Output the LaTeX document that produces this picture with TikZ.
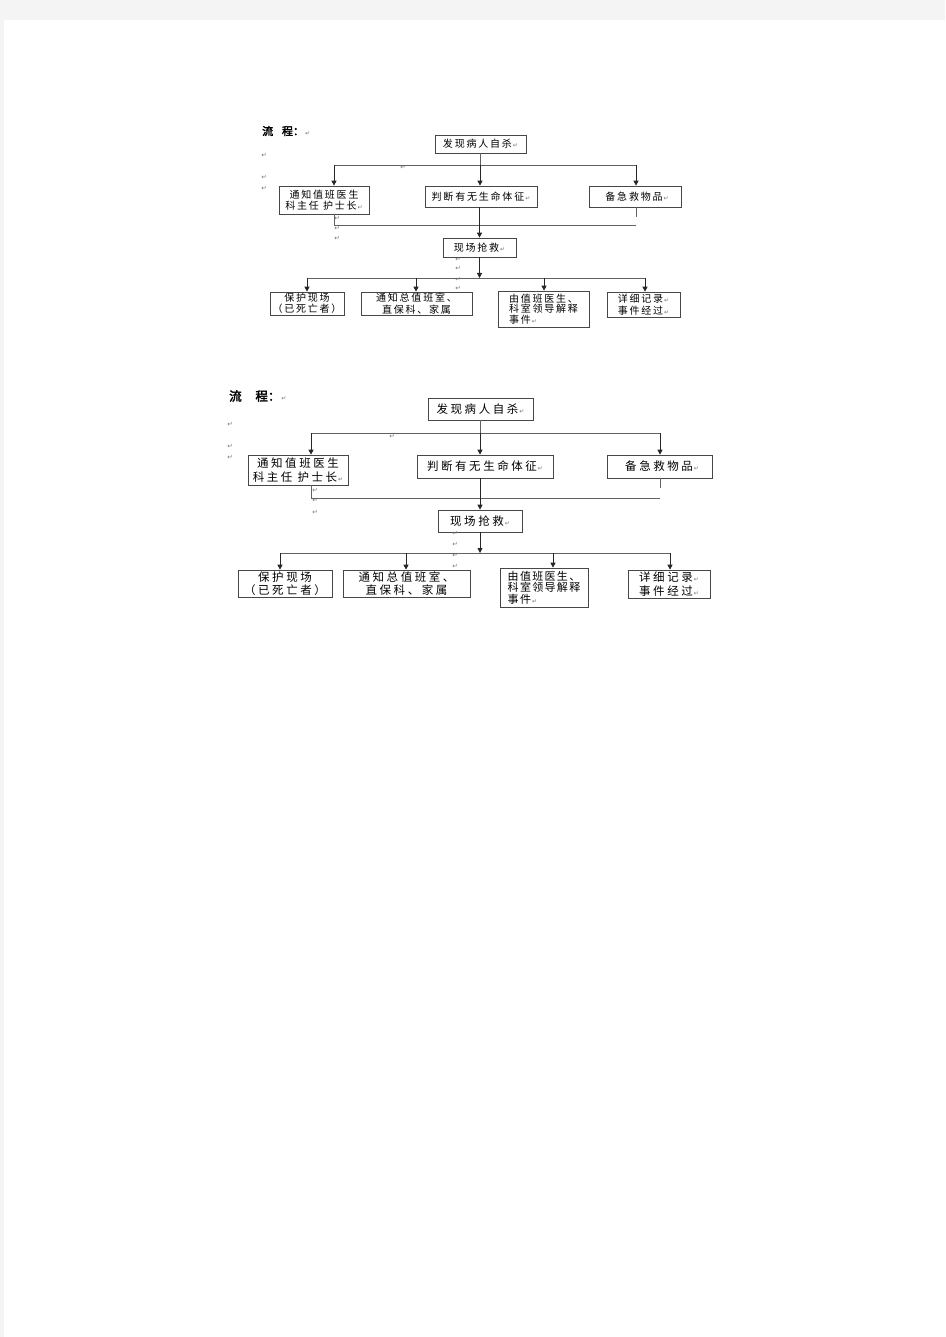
\documentclass[tikz,border=0pt]{standalone}
\usepackage{fontspec}
\setmainfont{Noto Sans CJK SC}
\newfontfamily\retfont{DejaVu Sans}
\newfontfamily\cjkA[LetterSpace=18]{Noto Sans CJK SC}
\newfontfamily\cjkB[LetterSpace=22]{Noto Sans CJK SC}
\newfontfamily\cjkC[LetterSpace=12]{Noto Sans CJK SC}
\newfontfamily\cjkT[FakeBold=2.5]{Noto Sans CJK SC}
\usetikzlibrary{arrows.meta}
\newcommand\retmark{{\retfont\color{black!55}\fontsize{6}{6}\selectfont\,↵}}
\begin{document}
\begin{tikzpicture}[x=1pt,y=-1pt,
  boxA/.style={draw=black!72, line width=0.7pt, inner sep=0pt, font={\cjkA\fontsize{10}{11.5}\selectfont}, align=center},
  boxB/.style={draw=black!72, line width=0.7pt, inner sep=0pt, font={\cjkB\fontsize{11.5}{13.5}\selectfont}, align=center},
  ln/.style={draw=black!62, line width=0.8pt},
  arr/.style={draw=black!85, line width=0.8pt, -{Triangle[length=5pt,width=5pt]}},
  stray/.style={inner sep=0pt, font={\retfont\fontsize{6.5}{6.5}\selectfont}, text=black!55},
  ttl/.style={inner sep=0pt, anchor=west}]
\useasboundingbox (0,0) rectangle (945,1337);
\fill[fill={rgb,255:red,244;green,244;blue,244}] (0,0) rectangle (945,1337);
\fill[white] (4,20) rectangle (945,1337);

% ================= Diagram 1 =================
\node[ttl, font={\cjkT\fontsize{11}{11}\selectfont}] (ttlA) at (262,131) {流\hspace{0.8em}程：\retmark};
\node[boxA, minimum width=91pt, minimum height=18pt] (t1) at (480.5,144) {发现病人自杀\retmark};
\node[boxA, minimum width=90pt, minimum height=28pt] (a1) at (324,200) {通知值班医生\\科主任\ 护士长\retmark};
\node[boxA, minimum width=112pt, minimum height=21pt] (b1) at (481,196.5) {判断有无生命体征\retmark};
\node[boxA, minimum width=92pt, minimum height=21pt] (c1) at (635,196.5) {\ 备急救物品\retmark};
\node[boxA, minimum width=73pt, minimum height=19pt] (r1) at (479.5,247.5) {现场抢救\retmark};
\node[boxA, minimum width=74pt, minimum height=23pt] (d1) at (307,303.5) {保护现场\\（已死亡者）};
\node[boxA, minimum width=111pt, minimum height=23pt] (d2) at (416.5,303.5) {通知总值班室、\\直保科、家属};
\node[boxA, minimum width=91pt, minimum height=36pt, align=left, font={\cjkA\fontsize{10}{10.5}\selectfont}] (d3) at (543.5,309) {由值班医生、\\科室领导解释\\事件\retmark};
\node[boxA, minimum width=73pt, minimum height=25pt] (d4) at (643.5,304.5) {详细记录\retmark\\事件经过\retmark};

\coordinate (h1L) at (334,165);
\coordinate (h1C) at (480,165);
\coordinate (h1R) at (636,165);
\draw[ln] (t1.south -| h1C) -- (h1C);
\draw[ln] (h1L) -- (h1R);
\draw[arr] (h1L) -- (h1L |- a1.north);
\draw[arr] (h1C) -- (h1C |- b1.north);
\draw[arr] (h1R) -- (h1R |- c1.north);
\coordinate (g1L) at (334,225);
\coordinate (g1R) at (636,225);
\coordinate (g1Rs) at (636,217);
\draw[ln] (g1L |- a1.south) -- (g1L) -- (g1R);
\draw[ln] (g1R |- c1.south) -- (g1Rs);
\coordinate (v1) at (479.5,225);
\draw[arr] (v1 |- b1.south) -- (v1 |- r1.north);
\coordinate (k1C) at (479.5,278);
\coordinate (k1a) at (307,278);
\coordinate (k1b) at (416,278);
\coordinate (k1c) at (544,278);
\coordinate (k1d) at (645,278);
\draw[arr] (r1.south) -- (k1C);
\draw[ln] (k1a) -- (k1d);
\draw[arr] (k1a) -- (k1a |- d1.north);
\draw[arr] (k1b) -- (k1b |- d2.north);
\draw[arr] (k1c) -- (k1c |- d3.north);
\draw[arr] (k1d) -- (k1d |- d4.north);

\node[stray] (sa1) at (264,155) {↵};
\node[stray] (sa2) at (264,177) {↵};
\node[stray] (sa3) at (264,188) {↵};
\node[stray] (sa4) at (403,167) {↵};
\node[stray] (sa5) at (337,218) {↵};
\node[stray] (sa6) at (337,228) {↵};
\node[stray] (sa7) at (337,238) {↵};
\node[stray] (sa8) at (458,259) {↵};
\node[stray] (sa9) at (458,268) {↵};
\node[stray] (sa10) at (458,279) {↵};
\node[stray] (sa11) at (458,288) {↵};

% ================= Diagram 2 =================
\node[ttl, font={\cjkT\fontsize{12.5}{12.5}\selectfont}] (ttlB) at (229,396) {流\hspace{1.1em}程：\retmark};
\node[boxB, minimum width=105pt, minimum height=22pt] (t2) at (480.5,409) {发现病人自杀\retmark};
\node[boxB, minimum width=100pt, minimum height=30pt] (a2) at (298,470) {通知值班医生\\科主任\ 护士长\retmark};
\node[boxB, minimum width=136pt, minimum height=23pt] (b2) at (485,466.5) {判断有无生命体征\retmark};
\node[boxB, minimum width=105pt, minimum height=23pt] (c2) at (659.5,466.5) {\ 备急救物品\retmark};
\node[boxB, minimum width=84pt, minimum height=22pt] (r2) at (480,521) {现场抢救\retmark};
\node[boxB, minimum width=94pt, minimum height=27pt] (e1) at (285,583.5) {保护现场\\（已死亡者）};
\node[boxB, minimum width=127pt, minimum height=27pt] (e2) at (406.5,583.5) {通知总值班室、\\直保科、家属};
\node[boxB, minimum width=88pt, minimum height=39pt, align=left, font={\cjkC\fontsize{11}{11.5}\selectfont}] (e3) at (544,587.5) {由值班医生、\\科室领导解释\\事件\retmark};
\node[boxB, minimum width=82pt, minimum height=28pt] (e4) at (669,584) {详细记录\retmark\\事件经过\retmark};

\coordinate (h2L) at (311,433);
\coordinate (h2C) at (480,433);
\coordinate (h2R) at (660,433);
\draw[ln] (t2.south -| h2C) -- (h2C);
\draw[ln] (h2L) -- (h2R);
\draw[arr] (h2L) -- (h2L |- a2.north);
\draw[arr] (h2C) -- (h2C |- b2.north);
\draw[arr] (h2R) -- (h2R |- c2.north);
\coordinate (g2L) at (311,498);
\coordinate (g2R) at (660,498);
\coordinate (g2Rs) at (660,488);
\draw[ln] (g2L |- a2.south) -- (g2L) -- (g2R);
\draw[ln] (g2R |- c2.south) -- (g2Rs);
\coordinate (v2) at (480,498);
\draw[arr] (v2 |- b2.south) -- (v2 |- r2.north);
\coordinate (k2C) at (480,553);
\coordinate (k2a) at (280,553);
\coordinate (k2b) at (406,553);
\coordinate (k2c) at (553,553);
\coordinate (k2d) at (670,553);
\draw[arr] (r2.south) -- (k2C);
\draw[ln] (k2a) -- (k2d);
\draw[arr] (k2a) -- (k2a |- e1.north);
\draw[arr] (k2b) -- (k2b |- e2.north);
\draw[arr] (k2c) -- (k2c |- e3.north);
\draw[arr] (k2d) -- (k2d |- e4.north);

\node[stray] (sb1) at (230,424) {↵};
\node[stray] (sb2) at (230,446) {↵};
\node[stray] (sb3) at (230,457) {↵};
\node[stray] (sb4) at (392,436) {↵};
\node[stray] (sb5) at (315,490) {↵};
\node[stray] (sb6) at (315,500) {↵};
\node[stray] (sb7) at (315,512) {↵};
\node[stray] (sb8) at (455,533) {↵};
\node[stray] (sb9) at (455,544) {↵};
\node[stray] (sb10) at (455,555) {↵};
\node[stray] (sb11) at (455,566) {↵};
\end{tikzpicture}
\end{document}
